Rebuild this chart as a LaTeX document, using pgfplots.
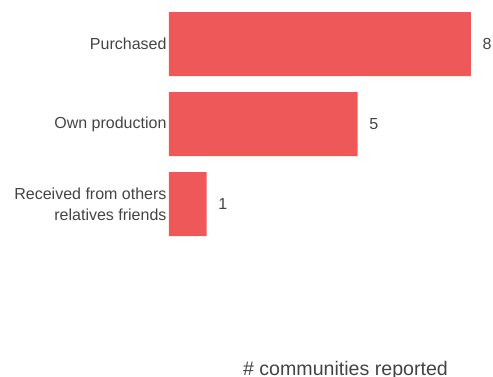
\documentclass[border=0pt]{standalone}
\usepackage{pgfplots}
\pgfplotsset{compat=1.18}
\usepackage{fontspec}
\setmainfont{Liberation Sans}
\definecolor{barred}{HTML}{EF5858}
\definecolor{txt}{HTML}{444444}
\begin{document}
\begin{tikzpicture}[x=1pt,y=1pt]
\path[use as bounding box] (0,0) rectangle (493,376);
\begin{axis}[
  at={(169pt,132pt)}, anchor=south west,
  scale only axis, width=339.75pt, height=240pt,
  xmin=0, xmax=9, ymin=-0.5, ymax=2.5, y dir=reverse,
  xbar, bar width=64pt, clip=false,
  axis line style={draw=none}, hide x axis,
  ytick={0,1,2}, yticklabels={Purchased,Own production,{Received from others\\relatives friends}},
  major tick length=0pt,
  yticklabel style={font=\fontsize{16}{21}\selectfont, text=txt, align=right, xshift=1pt},
  /pgf/number format/assume math mode=true,
  nodes near coords,
  nodes near coords style={font=\fontsize{16}{19}\selectfont, text=txt, anchor=west, xshift=8pt},
]
\addplot[fill=barred, draw=none] coordinates {(8,0) (5,1) (1,2)};
\end{axis}
\node[anchor=base, text=txt, font=\fontsize{19.6}{22}\selectfont] at (345.5,0.5) {\# communities reported};
\end{tikzpicture}
\end{document}
